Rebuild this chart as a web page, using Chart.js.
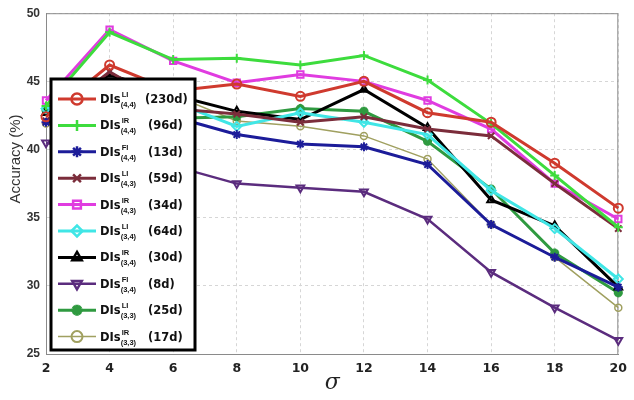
<!DOCTYPE html>
<html>
<head>
<meta charset="utf-8">
<script src="https://cdn.jsdelivr.net/npm/chart.js@4.4.0/dist/chart.umd.min.js"></script>
<style>
  body { margin: 0; background: #fff; }
  #wrap { width: 634px; height: 400px; }
</style>
</head>
<body>
<div id="wrap"><canvas id="myChart"></canvas></div>
<script>
const sigma = ['2', '4', '6', '8', '10', '12', '14', '16', '18', '20']
const yTicks = [25, 30, 35, 40, 45, 50]

// accuracy (%) per descriptor
const li44 = [42.4, 46.2, 44.3, 44.8, 43.9, 45.0, 42.7, 42.0, 39.0, 35.7]
const ir44 = [43.2, 48.6, 46.6, 46.7, 46.2, 46.9, 45.1, 41.9, 38.1, 34.3]
const fi44 = [42.0, 43.5, 42.4, 41.1, 40.4, 40.2, 38.9, 34.5, 32.1, 29.9]
const li43 = [42.1, 45.7, 43.0, 42.6, 42.0, 42.4, 41.5, 41.0, 37.5, 34.2]
const ir43 = [43.6, 48.8, 46.5, 44.9, 45.5, 45.0, 43.6, 41.5, 37.5, 34.9]
const li34 = [43.0, 44.5, 43.5, 41.7, 42.7, 42.0, 41.1, 37.0, 34.2, 30.5]
const ir34 = [42.7, 45.5, 44.0, 42.8, 42.2, 44.4, 41.6, 36.3, 34.4, 29.9]
const fi34 = [40.5, 39.6, 38.8, 37.5, 37.2, 36.9, 34.9, 31.0, 28.4, 26.0]
const li33 = [42.9, 44.0, 42.3, 42.4, 43.0, 42.8, 40.6, 37.1, 32.4, 29.5]
const ir33 = [41.9, 43.0, 44.0, 42.1, 41.7, 41.0, 39.3, 34.5, 32.1, 28.4]

const supers = ['LI', 'IR', 'FI', 'LI', 'IR', 'LI', 'IR', 'FI', 'LI', 'IR']
const subs = ['(4,4)', '(4,4)', '(4,4)', '(4,3)', '(4,3)', '(3,4)', '(3,4)', '(3,4)', '(3,3)', '(3,3)']
const dims = ['(230d)', '(96d)', '(13d)', '(59d)', '(34d)', '(64d)', '(30d)', '(8d)', '(25d)', '(17d)']

function series (data, color, style, width, extra) {
  return Object.assign({
    data: data,
    borderColor: color,
    backgroundColor: color,
    borderWidth: width,
    pointStyle: style,
    pointRadius: 4.5,
    pointBorderWidth: 2,
    pointBackgroundColor: 'rgba(255,255,255,0)',
    pointBorderColor: color,
    tension: 0
  }, extra || {})
}

const datasets = [
  series(li44, '#cf3a2e', 'circle', 3),
  series(ir44, '#3ddc3d', 'cross', 3),
  series(fi44, '#1c1c99', 'star', 3),
  series(li43, '#7b2d3b', 'crossRot', 3),
  series(ir43, '#e03ce0', 'rect', 3),
  series(li34, '#40e6e6', 'rectRot', 3),
  series(ir34, '#000000', 'triangle', 3),
  series(fi34, '#5b2c7e', 'triangle', 2.5, { pointRotation: 180 }),
  series(li33, '#2f9a40', 'star', 3, { pointBorderWidth: 3 }),
  series(ir33, '#a0a060', 'circle', 1.5, { pointRadius: 3.5, pointBorderWidth: 1.5 })
]
datasets.forEach((d, i) => { d.label = 'DIs' + supers[i] + subs[i] + ' ' + dims[i] })

const frame = {
  id: 'frame',
  beforeDatasetsDraw (chart) {
    const a = chart.chartArea
    const ctx = chart.ctx
    ctx.save()
    ctx.strokeStyle = '#8a8a8a'
    ctx.lineWidth = 1
    ctx.strokeRect(a.left + 0.5, a.top + 0.5, a.right - a.left - 1, a.bottom - a.top)
    ctx.restore()
  },
  afterDraw (chart) {
    const ctx = chart.ctx
    ctx.save()
    // y axis title
    ctx.translate(16, 159)
    ctx.rotate(-Math.PI / 2)
    ctx.fillStyle = '#333'
    ctx.font = '15px "Liberation Sans", Arial, sans-serif'
    ctx.textAlign = 'center'
    ctx.textBaseline = 'middle'
    ctx.fillText('Accuracy (%)', 0, 0)
    ctx.restore()

    // boxed legend
    ctx.save()
    ctx.fillStyle = '#fff'
    ctx.fillRect(51, 79, 144, 271)
    ctx.lineWidth = 3
    ctx.strokeStyle = '#000'
    ctx.strokeRect(51, 79, 144, 271)
    chart.data.datasets.forEach((ds, i) => {
      const y = 99 + i * 26.4
      ctx.strokeStyle = ds.borderColor
      ctx.fillStyle = 'rgba(255,255,255,0)'
      ctx.lineWidth = ds.borderWidth
      ctx.beginPath()
      ctx.moveTo(58, y)
      ctx.lineTo(96, y)
      ctx.stroke()
      ctx.lineWidth = ds.pointBorderWidth + 0.5
      Chart.helpers.drawPoint(ctx, {
        pointStyle: ds.pointStyle,
        rotation: ds.pointRotation || 0,
        radius: 5.5,
        borderWidth: ds.pointBorderWidth + 0.5
      }, 77, y)
      ctx.fillStyle = '#111'
      ctx.textBaseline = 'alphabetic'
      ctx.textAlign = 'left'
      ctx.font = 'bold 11.5px "DejaVu Sans", sans-serif'
      ctx.fillText('DIs', 100, y + 4)
      const w = ctx.measureText('DIs').width
      ctx.font = 'bold 7.5px "Liberation Sans", sans-serif'
      ctx.fillText(supers[i], 100 + w + 1, y - 2)
      ctx.fillText(subs[i], 100 + w, y + 8)
      ctx.font = 'bold 11.5px "DejaVu Sans", sans-serif'
      ctx.fillText(dims[i], i === 0 ? 145 : 148, y + 4)
    })
    ctx.restore()
  }
}

const config = {
  type: 'line',
  data: { labels: sigma, datasets: datasets },
  options: {
    responsive: true,
    maintainAspectRatio: false,
    animation: false,
    layout: { padding: { top: 10, right: 8, left: 0, bottom: 0 } },
    plugins: { legend: { display: false }, tooltip: { enabled: false } },
    scales: {
      x: {
        offset: false,
        grid: { color: '#d6d6d6', drawTicks: false },
        border: { display: true, color: '#8a8a8a', dash: [3, 3] },
        ticks: { padding: 7, color: '#222', font: { family: 'DejaVu Sans', weight: 'bold', size: 12.5 } },
        title: { display: true, text: 'σ', color: '#222', font: { family: 'DejaVu Serif', style: 'italic', size: 22 }, padding: { top: 0, bottom: 4 } },
        afterFit (s) { s.height = 46 }
      },
      y: {
        min: yTicks[0],
        max: yTicks[yTicks.length - 1],
        afterBuildTicks (s) { s.ticks = yTicks.map(v => ({ value: v })) },
        grid: { color: '#d6d6d6', drawTicks: false },
        border: { display: true, color: '#8a8a8a', dash: [3, 3] },
        ticks: { padding: 6, color: '#333', font: { family: 'Liberation Sans', weight: 'bold', size: 12 } },
        afterFit (s) { s.width = 46 }
      }
    }
  },
  plugins: [frame]
}

var myChart = new Chart(document.getElementById('myChart'), config)
</script>
</body>
</html>
